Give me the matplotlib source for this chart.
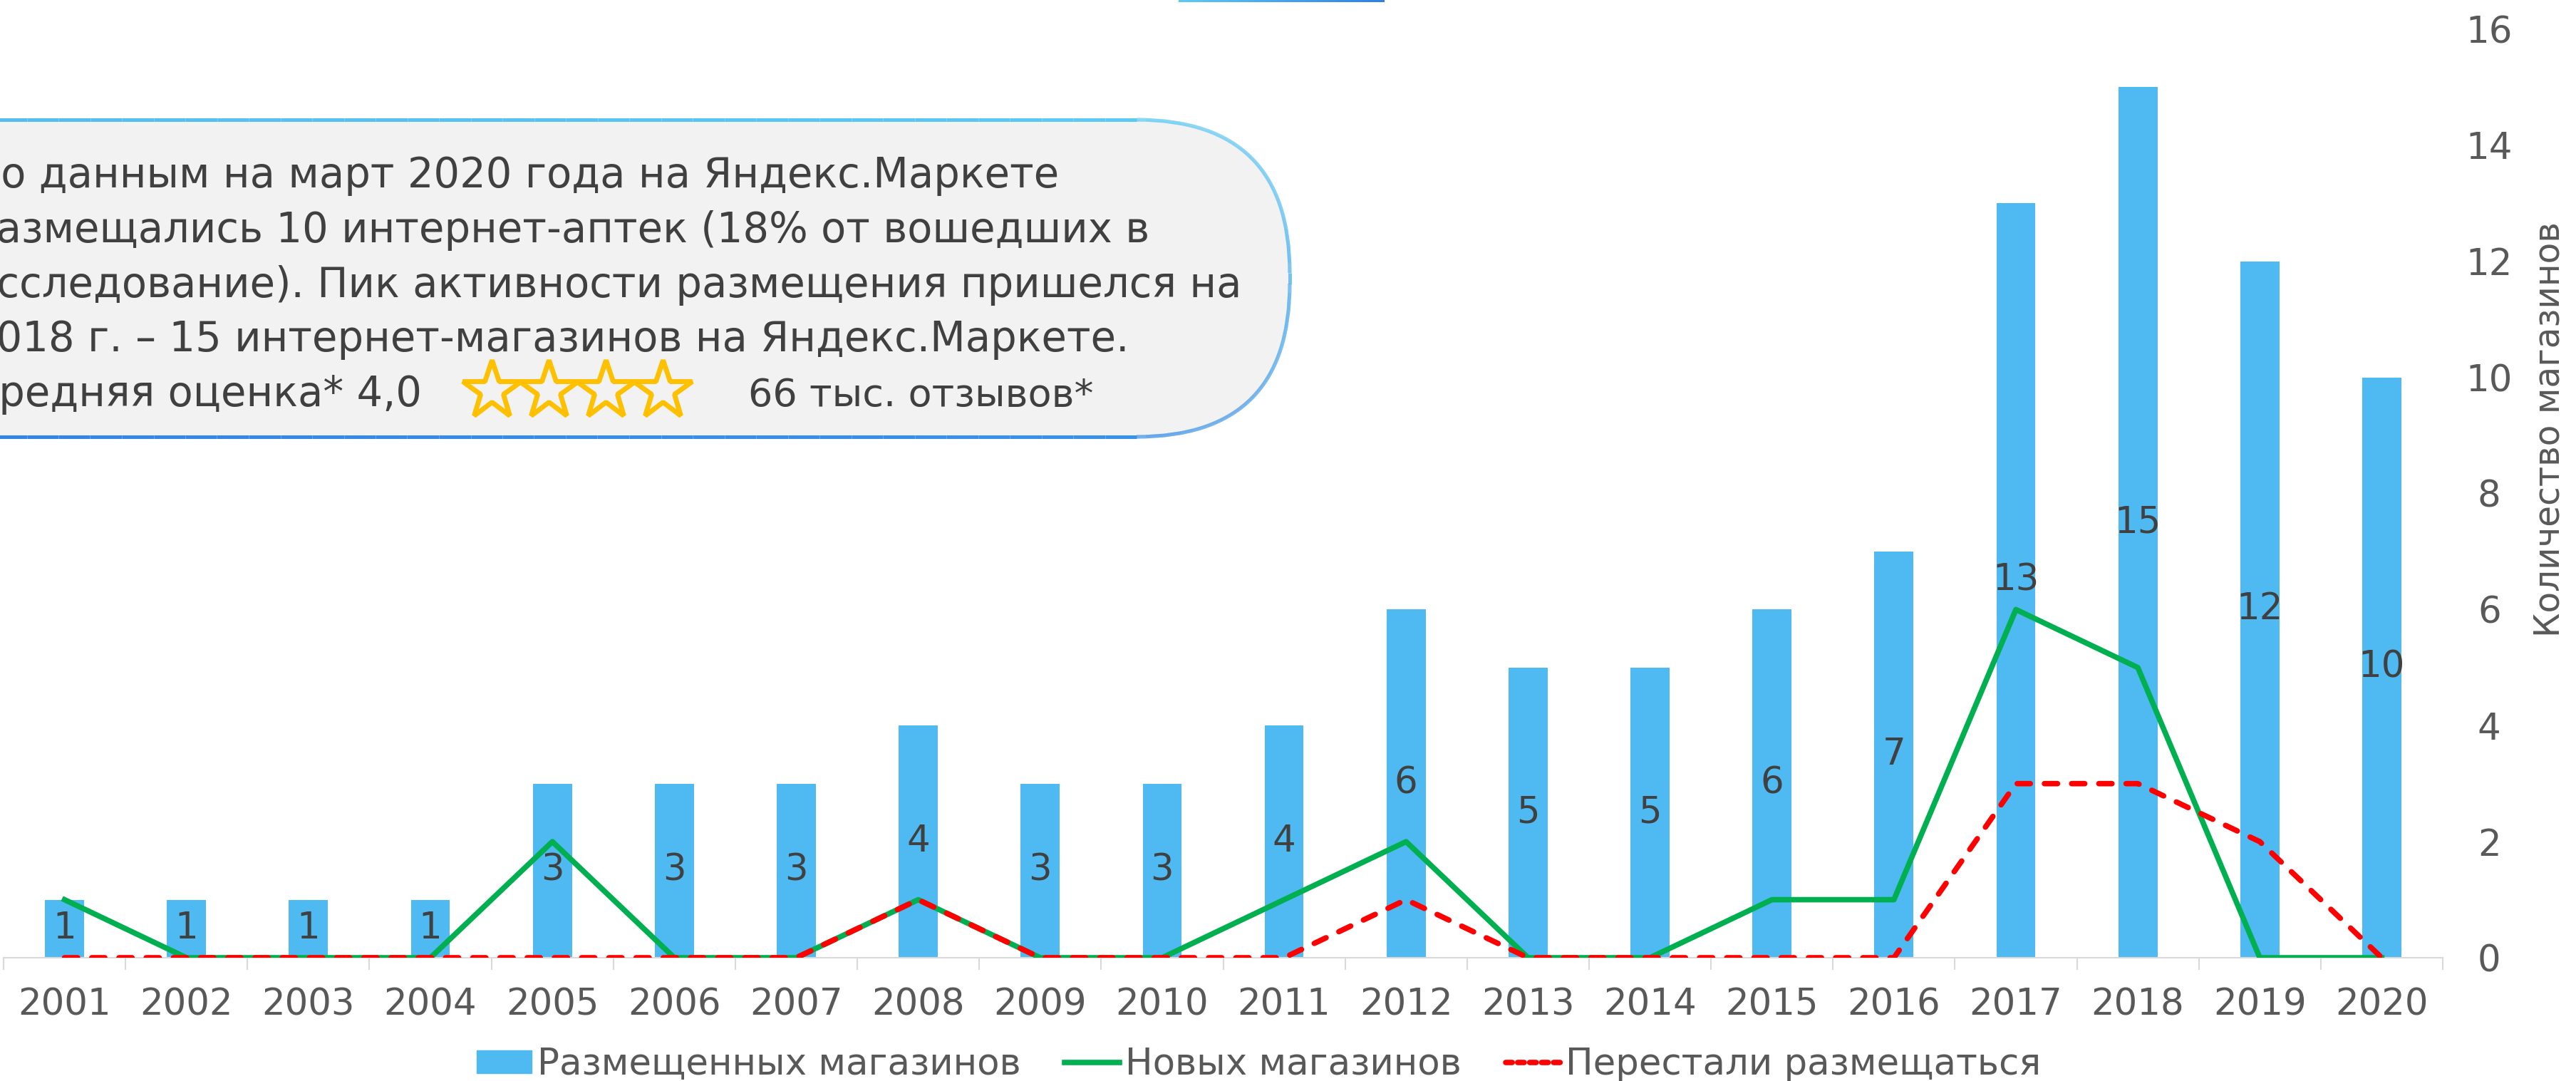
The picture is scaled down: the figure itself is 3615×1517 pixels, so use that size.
import numpy as np
import matplotlib
matplotlib.use('Agg')
import matplotlib.pyplot as plt
from matplotlib.patches import FancyBboxPatch, Patch
from matplotlib.lines import Line2D
from matplotlib.collections import LineCollection
from matplotlib.colors import LinearSegmentedColormap

plt.rcParams['font.family'] = ['DejaVu Sans']

# data
years = [str(y) for y in range(2001, 2021)]
placed = [1, 1, 1, 1, 3, 3, 3, 4, 3, 3, 4, 6, 5, 5, 6, 7, 13, 15, 12, 10]
new_shops = [1, 0, 0, 0, 2, 0, 0, 1, 0, 0, 1, 2, 0, 0, 1, 1, 6, 5, 0, 0]
stopped = [0, 0, 0, 0, 0, 0, 0, 1, 0, 0, 0, 1, 0, 0, 0, 0, 3, 3, 2, 0]
yticks = list(range(0, 17, 2))

series_names = ['Размещенных магазинов', 'Новых магазинов', 'Перестали размещаться']
ylabel = 'Количество магазинов'
note_lines = [
    'По данным на март 2020 года на Яндекс.Маркете',
    'размещались 10 интернет-аптек (18% от вошедших в',
    'исследование). Пик активности размещения пришелся на',
    '2018 г. – 15 интернет-магазинов на Яндекс.Маркете.',
]
rating_text = 'Средняя оценка* 4,0'
reviews_text = '66 тыс. отзывов*'
n_stars = 4

BLUE = '#4FB9F1'
GREEN = '#00B050'
RED = '#FF0000'
GRAY = '#595959'
DARK = '#404040'
W, H = 3615, 1517
FS = 37
LW = 5.5

fig = plt.figure(figsize=(W / 100, H / 100), dpi=100)
ax = fig.add_axes([5 / W, 1 - 1344 / H, (3428 - 5) / W, (1344 - 41) / H])
ax.set_facecolor('none')

x = np.arange(len(years))
ax.bar(x, placed, width=0.32, color=BLUE, zorder=2)
ax.plot(x, new_shops, color=GREEN, lw=LW, zorder=3)
ax.plot(x, stopped, color=RED, lw=LW, linestyle=(0, (2.4, 2.6)),
        dash_capstyle='round', zorder=4)
for i, v in enumerate(placed):
    ax.text(i, v / 2, str(v), ha='center', va='center', fontsize=FS,
            color=DARK, zorder=5)

ax.set_xlim(-0.5, len(years) - 0.5)
ax.set_ylim(0, 16)
for s in ['top', 'left', 'right']:
    ax.spines[s].set_visible(False)
ax.spines['bottom'].set_color('#D9D9D9')
ax.spines['bottom'].set_linewidth(1.5)

ax.set_xticks(x)
ax.set_xticklabels(years)
ax.set_xticks(np.arange(-0.5, len(years), 1), minor=True)
ax.tick_params(axis='x', which='major', length=0, pad=30, labelsize=FS,
               labelcolor=GRAY)
ax.tick_params(axis='x', which='minor', length=12, width=1.5, color='#D9D9D9')

ax.yaxis.tick_right()
ax.set_yticks(yticks)
ax.tick_params(axis='y', length=0, pad=47, labelsize=FS, labelcolor=GRAY)
for lbl in ax.get_yticklabels():
    lbl.set_ha('center')

fig.text(3578 / W, 1 - 603 / H, ylabel, rotation=90, ha='center', va='center',
         fontsize=35, color=GRAY)

handles = [Patch(color=BLUE),
           Line2D([], [], color=GREEN, lw=LW),
           Line2D([], [], color=RED, lw=LW, linestyle=(0, (1.2, 1)),
                  dash_capstyle='round')]
fig.legend(handles, series_names, loc='center', ncol=3, frameon=False,
           bbox_to_anchor=(1767 / W, 1 - 1494 / H), fontsize=FS,
           labelcolor=GRAY, handlelength=1.5, handleheight=0.6,
           handletextpad=0.15, columnspacing=1.2)

# overlay in pixel coordinates
ov = fig.add_axes([0, 0, 1, 1], zorder=10)
ov.set_facecolor('none')
ov.axis('off')

grad = LinearSegmentedColormap.from_list('g', ['#5BCBF3', '#2F7FE6'])
ov.imshow(np.linspace(0, 1, 256)[None, :], extent=(1654, 1943, 3, 0),
          cmap=grad, aspect='auto')

box = FancyBboxPatch((-400, 168), 1810 + 400, 613 - 168,
                     boxstyle='round,pad=0,rounding_size=215',
                     fc='#F2F2F2', ec='none')
ov.add_patch(box)
poly = box.get_path().to_polygons()[0]
pts = []
for a, b in zip(poly[:-1], poly[1:]):
    for t in np.linspace(0, 1, 40, endpoint=False):
        pts.append(a + (b - a) * t)
pts.append(poly[-1])
pts = np.array(pts)
segs = np.stack([pts[:-1], pts[1:]], axis=1)
mid = segs.mean(axis=1)
# darker towards the bottom-left, lighter at the top
tval = 0.8 * (mid[:, 1] - 168) / 445 + 0.2 * (1 - np.clip(mid[:, 0], 0, 1810) / 1810)
lc = LineCollection(segs, cmap=LinearSegmentedColormap.from_list('b', ['#5BCBF3', '#3385E8']),
                    linewidths=3.6)
lc.set_array(tval)
lc.set_clim(0, 1)
ov.add_collection(lc)

baselines = [263, 340, 417, 493]
for txt, yb in zip(note_lines, baselines):
    ov.text(-42, yb, txt, ha='left', va='baseline', fontsize=41.5, color=DARK)
ov.text(-42, 570, rating_text, ha='left', va='baseline', fontsize=41.5, color=DARK)
ov.text(1050, 570, reviews_text, ha='left', va='baseline', fontsize=39, color=DARK)
star_x = [690 + 80 * k for k in range(n_stars)]
ov.plot(star_x, [548] * n_stars, linestyle='none', marker='*', markersize=62,
        mfc='none', mec='#FFC000', mew=5)

ov.set_xlim(0, W)
ov.set_ylim(H, 0)

fig.savefig('out.png', dpi=100)
